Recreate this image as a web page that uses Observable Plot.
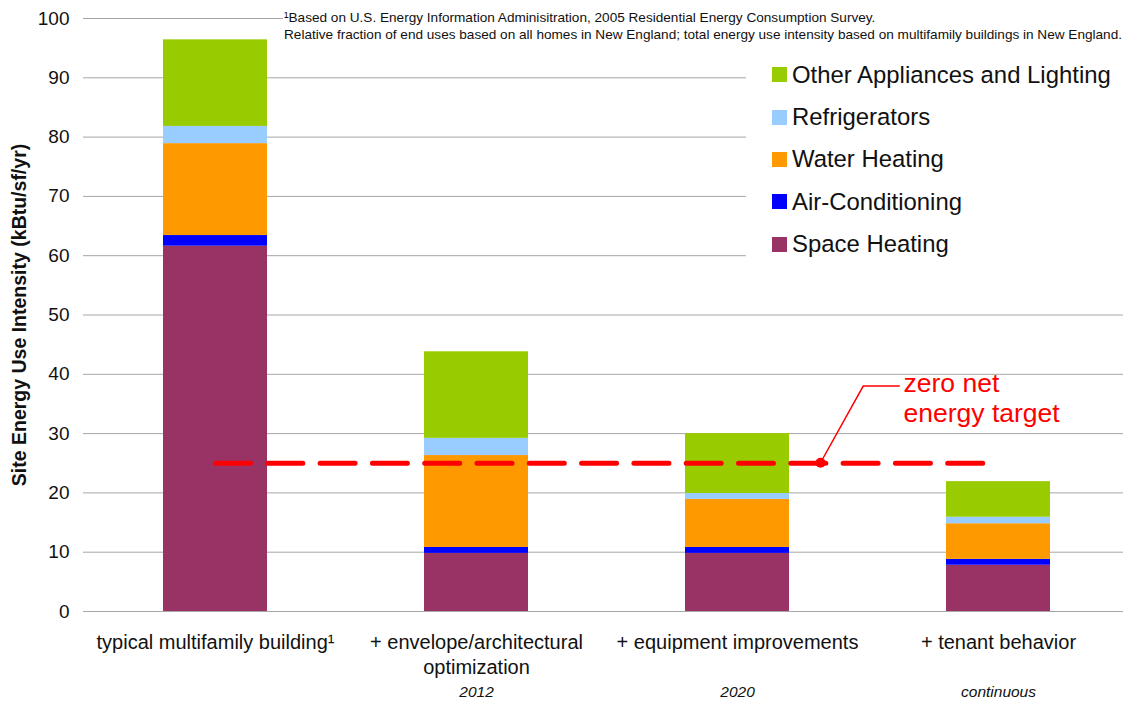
<!DOCTYPE html>
<html>
<head>
<meta charset="utf-8">
<script src="https://cdn.jsdelivr.net/npm/d3@7"></script>
<script src="https://cdn.jsdelivr.net/npm/@observablehq/plot@0.6"></script>
<style>
  html, body { margin: 0; padding: 0; background: #fff; }
  #wrap { position: relative; width: 1123px; height: 703px; font-family: "Liberation Sans", Arial, sans-serif; }
  #note { position: absolute; left: 283px; top: 9px; right: 0; background: #fff; font-size: 13.6px; line-height: 17px; color: #111; padding-left: 1px; white-space: nowrap; }
  #legend { position: absolute; left: 746px; top: 53.5px; right: 0; height: 215px; background: #fff; padding-left: 26px; box-sizing: border-box; }
  #legend .row { display: flex; align-items: center; height: 42.4px; font-size: 23.9px; color: #111; white-space: nowrap; }
  #legend .sw { width: 15px; height: 15px; margin-right: 5px; flex: none; }
</style>
</head>
<body>
<div id="wrap">
  <div id="chart"></div>
  <div id="note"></div>
  <div id="legend"></div>
</div>
<script>
// ---- data ----
const categories = [
  "typical multifamily building¹",
  "+ envelope/architectural\noptimization",
  "+ equipment improvements",
  "+ tenant behavior"
];
const years = ["", "2012", "2020", "continuous"];
const seriesNames = ["Space Heating", "Air-Conditioning", "Water Heating", "Refrigerators", "Other Appliances and Lighting"];
const seriesColors = ["#993366", "#0000ff", "#ff9900", "#99ccff", "#99cc00"];
const spaceHeating = [61.6, 9.8, 9.8, 7.8];
const airConditioning = [1.8, 1.0, 1.0, 1.0];
const waterHeating = [15.5, 15.5, 8.1, 6.0];
const refrigerators = [2.9, 2.9, 1.0, 1.1];
const otherAppliances = [14.6, 14.6, 10.1, 6.0];
const targetValue = 25;
const yTicks = [0, 10, 20, 30, 40, 50, 60, 70, 80, 90, 100];
const yLabel = "Site Energy Use Intensity (kBtu/sf/yr)";
const annotationText = "zero net\nenergy target";
const footnoteLines = [
  "¹Based on U.S. Energy Information Adminisitration, 2005 Residential Energy Consumption Survey.",
  "Relative fraction of end uses based on all homes in New England; total energy use intensity based on multifamily buildings in New England."
];

// ---- build table ----
const seriesValues = [spaceHeating, airConditioning, waterHeating, refrigerators, otherAppliances];
const table = [];
categories.forEach((c, i) => {
  seriesNames.forEach((s, j) => table.push({category: c, series: s, value: seriesValues[j][i]}));
});
const target = [{category: categories[0], value: targetValue}, {category: categories[3], value: targetValue}];

const RED = "#ff0000";

function annotation(index, scales) {
  const sx = scales.x, sy = scales.y;
  const bw = sx.bandwidth ? sx.bandwidth() : 105;
  const step = sx.step ? sx.step() : 261.25;
  const cx = sx(categories[2]) + bw / 2 + 0.32 * step;
  const cy = sy(targetValue);
  const g = d3.create("svg:g");
  g.append("polyline")
    .attr("points", `${cx},${cy} ${cx + 42.7},${cy - 76.7} ${cx + 79.3},${cy - 76.7}`)
    .attr("fill", "none").attr("stroke", RED).attr("stroke-width", 1.5);
  g.append("circle").attr("cx", cx).attr("cy", cy).attr("r", 5).attr("fill", RED);
  const t = g.append("text").attr("fill", RED).attr("font-size", 26.5)
    .attr("text-anchor", "start")
    .attr("font-family", "Liberation Sans, Arial, sans-serif");
  annotationText.split("\n").forEach((line, i) => {
    t.append("tspan").attr("x", cx + 83).attr("y", cy - 71 + i * 30).text(line);
  });
  return g.node();
}

const chart = Plot.plot({
  width: 1123,
  height: 703,
  marginLeft: 83,
  marginRight: 0,
  marginTop: 18,
  marginBottom: 92,
  style: {fontFamily: "Liberation Sans, Arial, sans-serif", fontSize: "19px", color: "#111", background: "#fff", overflow: "visible"},
  x: {domain: categories, range: [84, 1129], paddingInner: 0.6, paddingOuter: 0.3, axis: null},
  y: {domain: [0, 100], ticks: yTicks, tickSize: 0, tickPadding: 14, label: null},
  color: {domain: seriesNames, range: seriesColors},
  marks: [
    Plot.ruleY(yTicks, {stroke: "#a6a6a6", strokeWidth: 1}),
    Plot.barY(table, {x: "category", y: "value", fill: "series", order: seriesNames, inset: 0}),
    Plot.line(target, {x: "category", y: "value", stroke: RED, strokeWidth: 5, strokeDasharray: "35,17.3"}),
    annotation,
    Plot.text(categories, {x: d => d, frameAnchor: "bottom", dy: 20, lineAnchor: "top", lineHeight: 1.25, fontSize: 20, fill: "#111"}),
    Plot.text(categories, {x: d => d, text: (d, i) => years[i], frameAnchor: "bottom", dy: 81, lineAnchor: "middle", fontSize: 15.5, fontStyle: "italic", fill: "#111"}),
    Plot.text([yLabel], {frameAnchor: "left", textAnchor: "middle", lineAnchor: "middle", rotate: -90, dx: -64, fontWeight: "bold", fontSize: 19.5, fill: "#111"})
  ]
});
document.getElementById("chart").appendChild(chart);

// footnote
const note = document.getElementById("note");
footnoteLines.forEach(l => { const d = document.createElement("div"); d.textContent = l; note.appendChild(d); });

// legend (top to bottom: reverse of stack order)
const legend = document.getElementById("legend");
seriesNames.map((s, i) => [s, seriesColors[i]]).reverse().forEach(([s, c]) => {
  const row = document.createElement("div"); row.className = "row";
  const sw = document.createElement("span"); sw.className = "sw"; sw.style.background = c;
  const tx = document.createElement("span"); tx.textContent = s;
  row.appendChild(sw); row.appendChild(tx); legend.appendChild(row);
});
</script>
</body>
</html>
